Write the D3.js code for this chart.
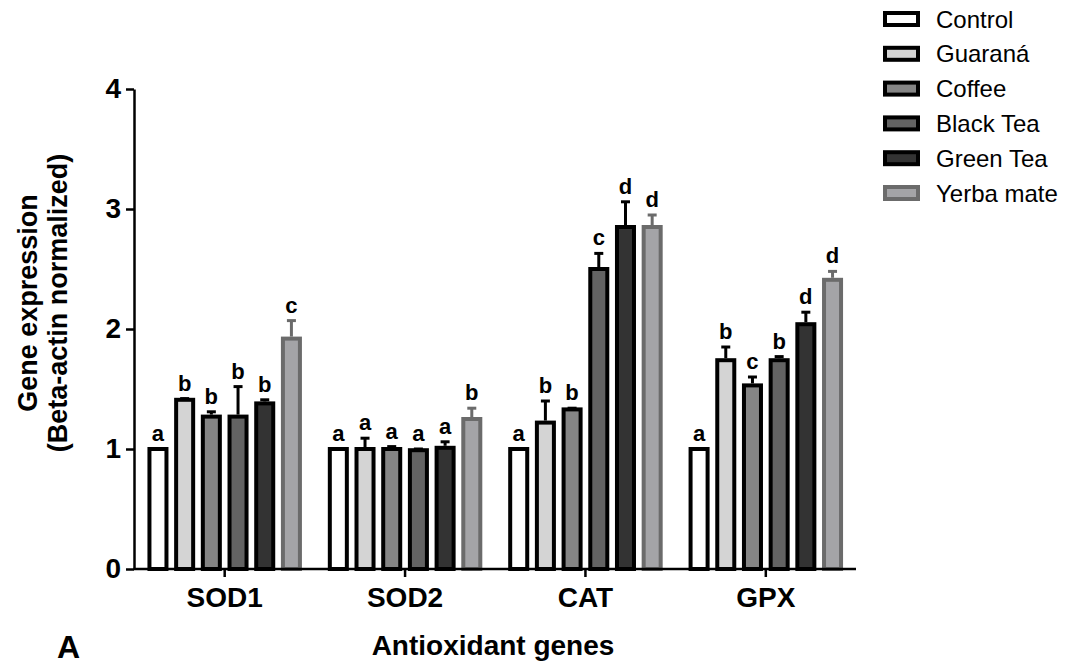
<!DOCTYPE html>
<html>
<head>
<meta charset="utf-8">
<script src="https://cdn.jsdelivr.net/npm/d3@7"></script>
<style>
  body { margin: 0; background: #fff; }
  svg text { font-family: "Liberation Sans", Arial, sans-serif; }
</style>
</head>
<body>
<div id="grafik"></div>
<script>
// data
const genes = ["SOD1", "SOD2", "CAT", "GPX"];
const series = ["Control", "Guaraná", "Coffee", "Black Tea", "Green Tea", "Yerba mate"];

const meanSOD1 = [1.00, 1.41, 1.27, 1.27, 1.38, 1.92];
const meanSOD2 = [1.00, 1.00, 1.00, 0.99, 1.01, 1.25];
const meanCAT  = [1.00, 1.22, 1.33, 2.50, 2.85, 2.85];
const meanGPX  = [1.00, 1.74, 1.53, 1.74, 2.04, 2.41];

const errSOD1 = [0, 0.01, 0.04, 0.25, 0.03, 0.15];
const errSOD2 = [0, 0.09, 0.02, 0.01, 0.05, 0.09];
const errCAT  = [0, 0.18, 0.01, 0.13, 0.21, 0.10];
const errGPX  = [0, 0.11, 0.07, 0.03, 0.10, 0.07];

const letSOD1 = ["a", "b", "b", "b", "b", "c"];
const letSOD2 = ["a", "a", "a", "a", "a", "b"];
const letCAT  = ["a", "b", "b", "c", "d", "d"];
const letGPX  = ["a", "b", "c", "b", "d", "d"];

const yTicks = [0, 1, 2, 3, 4];

const means = [meanSOD1, meanSOD2, meanCAT, meanGPX];
const errs = [errSOD1, errSOD2, errCAT, errGPX];
const lets = [letSOD1, letSOD2, letCAT, letGPX];

const rows = [];
genes.forEach((g, gi) => {
  series.forEach((s, si) => {
    rows.push({gene: g, series: s, value: means[gi][si], err: errs[gi][si], letter: lets[gi][si]});
  });
});

const W = 1070, H = 666;
const svg = d3.select("#grafik").append("svg")
  .attr("width", W).attr("height", H)
  .style("background", "#fff");

const x0 = d3.scaleBand().domain(genes).range([134.5, 856]).padding(0);
const x1 = d3.scaleBand().domain(series).range([0, x0.bandwidth()])
  .paddingInner(0.3625).paddingOuter(0.56);
const y = d3.scaleLinear().domain([0, 4]).range([569, 89]);

const fill = d3.scaleOrdinal().domain(series)
  .range(["#ffffff", "#d4d4d4", "#858585", "#636363", "#333333", "#a4a4a7"]);
const stroke = d3.scaleOrdinal().domain(series)
  .range(["#000", "#000", "#000", "#000", "#000", "#6b6b6b"]);

// bars
const bars = svg.append("g");
bars.selectAll("rect")
  .data(rows)
  .enter()
  .append("rect")
  .attr("x", d => x0(d.gene) + x1(d.series))
  .attr("width", x1.bandwidth())
  .attr("y", d => y(d.value))
  .attr("height", d => y(0) - y(d.value))
  .attr("fill", d => fill(d.series))
  .attr("stroke", d => stroke(d.series))
  .attr("stroke-width", 4);

// error bars (upper only)
const eb = svg.append("g");
const withErr = rows.filter(d => d.err > 0);
eb.selectAll("line.v")
  .data(withErr)
  .enter()
  .append("line")
  .attr("x1", d => x0(d.gene) + x1(d.series) + x1.bandwidth() / 2)
  .attr("x2", d => x0(d.gene) + x1(d.series) + x1.bandwidth() / 2)
  .attr("y1", d => y(d.value) - 2)
  .attr("y2", d => y(d.value + d.err))
  .attr("stroke", d => stroke(d.series))
  .attr("stroke-width", 3);
eb.selectAll("line.cap")
  .data(withErr)
  .enter()
  .append("line")
  .attr("x1", d => x0(d.gene) + x1(d.series) + x1.bandwidth() / 2 - 4.5)
  .attr("x2", d => x0(d.gene) + x1(d.series) + x1.bandwidth() / 2 + 4.5)
  .attr("y1", d => y(d.value + d.err))
  .attr("y2", d => y(d.value + d.err))
  .attr("stroke", d => stroke(d.series))
  .attr("stroke-width", 3);

// significance letters
svg.append("g").selectAll("text")
  .data(rows)
  .enter()
  .append("text")
  .attr("x", d => x0(d.gene) + x1(d.series) + x1.bandwidth() / 2)
  .attr("y", d => y(d.value + d.err) - 8)
  .attr("text-anchor", "middle")
  .style("font-size", "22px")
  .style("font-weight", "bold")
  .text(d => d.letter);

// axes
const xAxis = svg.append("g")
  .attr("transform", `translate(0,${y(0)})`)
  .call(d3.axisBottom(x0).tickSizeOuter(0).tickSizeInner(8).tickPadding(10));
xAxis.select(".domain").attr("stroke-width", 2.5).attr("d", `M${x0.range()[0] - 1},0H${x0.range()[1]}`);
xAxis.selectAll(".tick line").attr("stroke-width", 2.5);
xAxis.selectAll("text")
  .style("font-size", "28px").style("font-weight", "bold").attr("fill", "#000");

const yAxis = svg.append("g")
  .attr("transform", `translate(${x0.range()[0] - 0.5},0)`)
  .call(d3.axisLeft(y).tickValues(yTicks).tickFormat(d3.format("d"))
    .tickSizeOuter(0).tickSizeInner(8).tickPadding(5));
yAxis.select(".domain").attr("stroke-width", 2.5);
yAxis.selectAll(".tick line").attr("stroke-width", 2.5);
yAxis.selectAll("text")
  .style("font-size", "28px").style("font-weight", "bold").attr("fill", "#000");

// axis titles
svg.append("text")
  .attr("x", 493).attr("y", 655)
  .attr("text-anchor", "middle")
  .style("font-size", "28px").style("font-weight", "bold")
  .text("Antioxidant genes");

const yt = svg.append("g").attr("transform", "translate(0,303)");
yt.append("text")
  .attr("transform", "translate(37,0) rotate(-90)")
  .attr("text-anchor", "middle")
  .style("font-size", "27px").style("font-weight", "bold")
  .text("Gene expression");
yt.append("text")
  .attr("transform", "translate(67,0) rotate(-90)")
  .attr("text-anchor", "middle")
  .style("font-size", "27px").style("font-weight", "bold")
  .text("(Beta-actin normalized)");

// panel letter
svg.append("text")
  .attr("x", 57).attr("y", 658)
  .style("font-size", "32px").style("font-weight", "bold")
  .text("A");

// legend
const ly = d3.scalePoint().domain(series).range([19, 193]);
const legend = svg.append("g").selectAll("g")
  .data(series)
  .enter()
  .append("g")
  .attr("transform", d => `translate(0,${ly(d)})`);
legend.append("rect")
  .attr("x", 885).attr("y", -6)
  .attr("width", 33).attr("height", 12)
  .attr("fill", d => fill(d))
  .attr("stroke", d => stroke(d))
  .attr("stroke-width", 4);
legend.append("text")
  .attr("x", 936).attr("y", 8.5)
  .style("font-size", "24px")
  .text(d => d);
</script>
</body>
</html>
